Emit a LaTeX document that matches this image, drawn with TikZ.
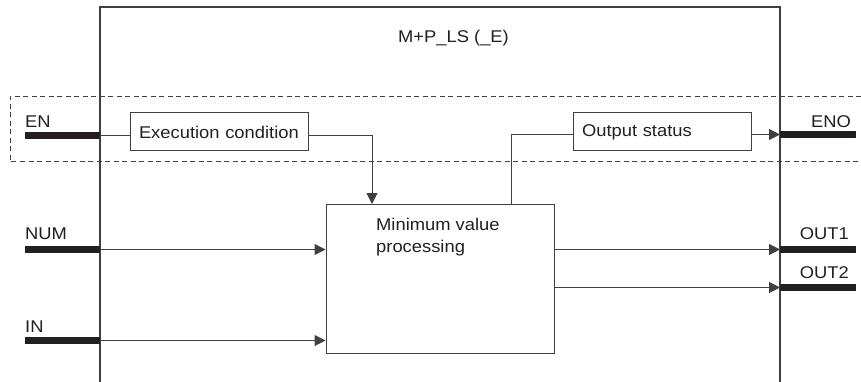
\documentclass[tikz,border=0pt]{standalone}
\usepackage{fontspec}
\setmainfont{Liberation Sans}[FakeStretch=1.08]
\usetikzlibrary{arrows.meta}
\definecolor{ink}{HTML}{231F20}
\definecolor{wire}{HTML}{404040}
\begin{document}
\begin{tikzpicture}[x=1pt,y=-1pt,
  every node/.style={font=\fontsize{17}{22}\selectfont, text=ink},
  box/.style={draw=wire, line width=1pt, inner ysep=0pt, inner xsep=9pt, text width=160pt, align=left},
  wireline/.style={draw=wire, line width=1pt},
  arr/.style={wireline, -{Triangle[length=11pt,width=11pt]}},
  pinbar/.style={draw=ink, line width=7pt},
  frame/.style={draw=wire, line width=1.3pt},
  lbl/.style={inner sep=0pt}]
\useasboundingbox (0,0) rectangle (861,382);
% function block frame
\draw[frame] (100,382) -- (100,7) -- (780,7) -- (780,382);
\node[lbl] (title) at (453.5,38) {M+P\_LS (\_E)};
% dashed EN/ENO region
\draw[wireline, dash pattern=on 5pt off 3.5pt] (861,96.5) -- (10,96.5) -- (10,162) -- (861,162);
% inner boxes
\node[box, minimum height=38pt] (ec) at (219,132) {\mbox{Execution condition}};
\node[box, minimum height=38pt] (os) at (662,132) {\mbox{Output status}};
\node[draw=wire, line width=1pt, minimum width=228pt, minimum height=149pt] (mv) at (440,278.5) {};
\node[lbl, anchor=north west, align=left] (mvt) at (376,218) {Minimum value\\processing};
% pin coordinates
\coordinate (enL) at (100,135.5);
\coordinate (numL) at (100,249.5);
\coordinate (inL) at (100,340.5);
\coordinate (enoR) at (780,134.5);
\coordinate (out1R) at (780,249.5);
\coordinate (out2R) at (780,287.5);
\coordinate (ecdrop) at (372,204);
\coordinate (mvup) at (511,204);
% pin bars
\draw[pinbar] (25,135.5) -- (enL);
\draw[pinbar] (25,249.5) -- (numL);
\draw[pinbar] (25,340.5) -- (inL);
\draw[pinbar] (enoR) -- (856,134.5);
\draw[pinbar] (out1R) -- (856,249.5);
\draw[pinbar] (out2R) -- (856,287.5);
% pin labels
\node[lbl, anchor=west] (enlab) at (25,121.5) {EN};
\node[lbl, anchor=west] (numlab) at (25,234) {NUM};
\node[lbl, anchor=west] (inlab) at (25,326.5) {IN};
\node[lbl, anchor=east] (enolab) at (851,122) {ENO};
\node[lbl, anchor=east] (out1lab) at (849,234) {OUT1};
\node[lbl, anchor=east] (out2lab) at (849,273) {OUT2};
% connectors
\draw[wireline] (enL) -- (enL -| ec.west);
\draw[arr] (ec.east |- enL) -| (ecdrop);
\draw[wireline] (mvup) |- (os.west |- enoR);
\draw[arr] (os.east |- enoR) -- (enoR);
\draw[arr] (numL) -- (numL -| mv.west);
\draw[arr] (inL) -- (inL -| mv.west);
\draw[arr] (mv.east |- out1R) -- (out1R);
\draw[arr] (mv.east |- out2R) -- (out2R);
\end{tikzpicture}
\end{document}
